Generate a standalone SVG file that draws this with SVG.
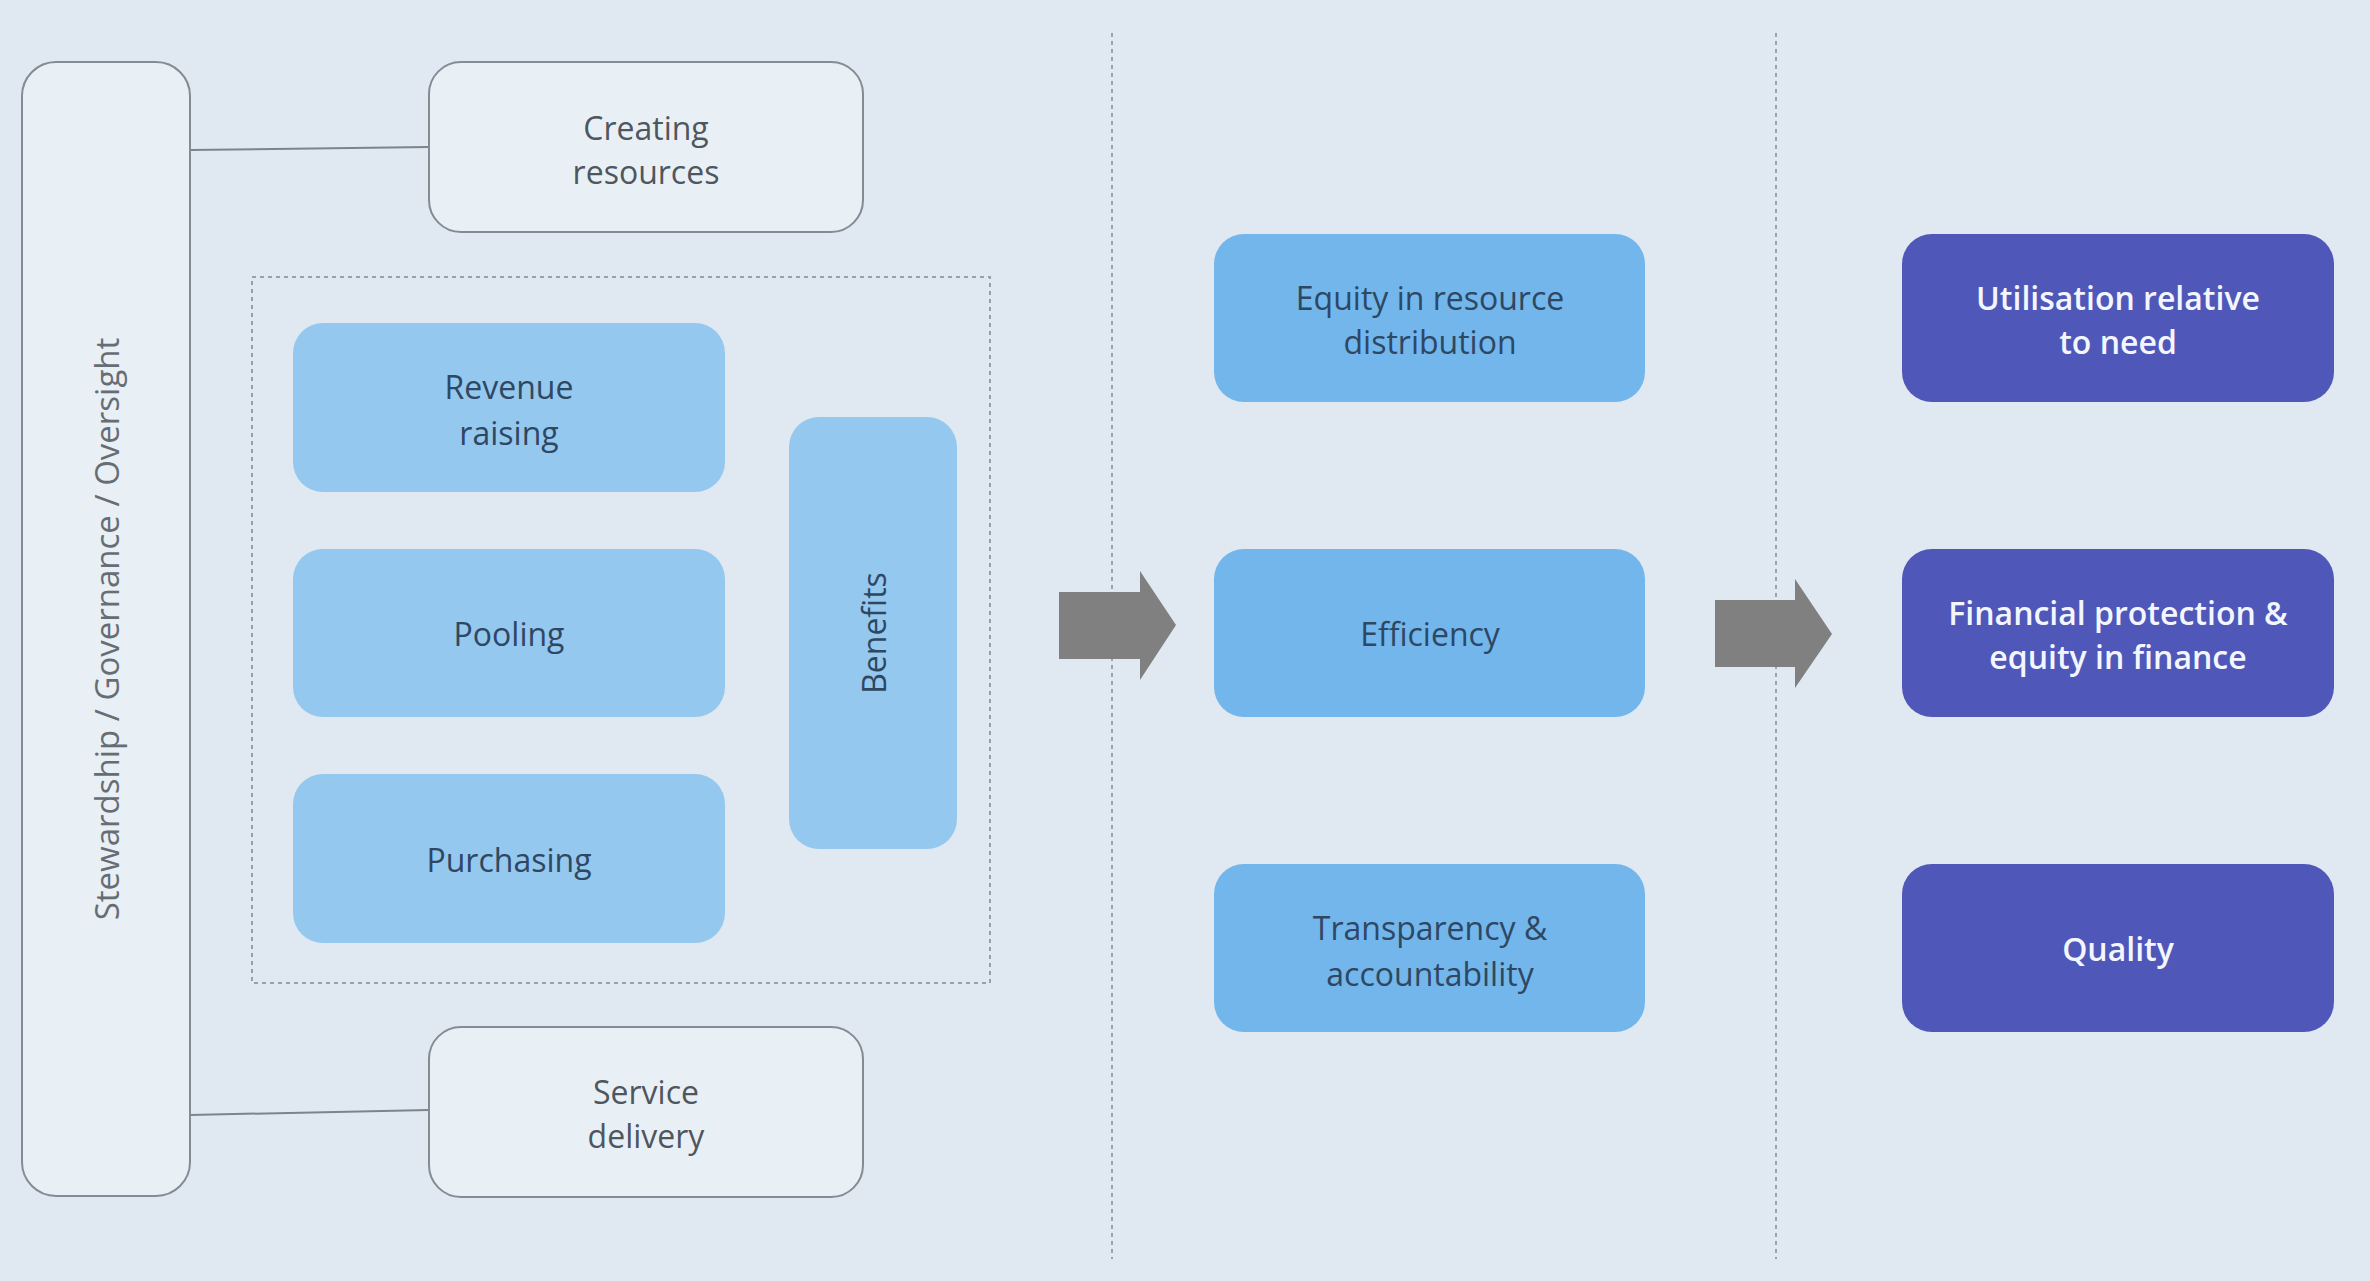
<svg xmlns="http://www.w3.org/2000/svg" width="2370" height="1281" viewBox="0 0 2370 1281">
<style>
.bg{fill:#e0e9f2}
.light{fill:#e9f0f5;stroke:#858b93;stroke-width:2}
.inner{fill:#95c8ef}
.mid{fill:#72b6ec}
.dark{fill:#4f58b9}
.t{font-family:"Open Sans","Noto Sans","Liberation Sans",sans-serif;font-size:32px;text-anchor:middle;dominant-baseline:central}
.tg{fill:#4e565f}
.tb{fill:#2e4762}
.tw{fill:#f4f6ff;font-weight:600}
.conn{stroke:#7c838b;stroke-width:2;fill:none}
.div{stroke:#9aa3ad;stroke-width:2;stroke-dasharray:4 4;fill:none}
.grp{stroke:#99a0a8;stroke-width:2;stroke-dasharray:4 4;fill:none}
.arrow{fill:#808080}
</style>
<rect class="bg" x="0" y="0" width="2370" height="1281"/>
<g id="dividers">
<line class="div" x1="1112" y1="33" x2="1112" y2="1259"/>
<line class="div" x1="1776" y1="33" x2="1776" y2="1259"/>
</g>
<g id="connectors">
<line class="conn" x1="190" y1="150" x2="429" y2="147"/>
<line class="conn" x1="190" y1="1115" x2="429" y2="1110"/>
<polygon class="arrow" points="1059,592 1140,592 1140,571 1176,625 1140,680 1140,659 1059,659"/>
<polygon class="arrow" points="1715,600 1795,600 1795,579 1832,634 1795,688 1795,667 1715,667"/>
</g>
<g id="stewardship">
<rect class="light" x="22" y="62" width="168" height="1134" rx="34"/>
<text class="t tg" x="0" y="0" transform="translate(106,629) rotate(-90)" style="font-size:33px;fill:#676d74">Stewardship / Governance / Oversight</text>
</g>
<g id="creating">
<rect class="light" x="429" y="62" width="434" height="170" rx="32"/>
<text class="t tg" x="646" y="127">Creating</text>
<text class="t tg" x="646" y="171">resources</text>
</g>
<g id="financing-group">
<rect class="grp" x="252" y="277" width="738" height="706"/>
</g>
<g id="revenue">
<rect class="inner" x="293" y="323" width="432" height="169" rx="30"/>
<text class="t tb" x="509" y="386">Revenue</text>
<text class="t tb" x="509" y="432">raising</text>
</g>
<g id="pooling">
<rect class="inner" x="293" y="549" width="432" height="168" rx="30"/>
<text class="t tb" x="509" y="633">Pooling</text>
</g>
<g id="purchasing">
<rect class="inner" x="293" y="774" width="432" height="169" rx="30"/>
<text class="t tb" x="509" y="859">Purchasing</text>
</g>
<g id="benefits">
<rect class="inner" x="789" y="417" width="168" height="432" rx="30"/>
<text class="t tb" x="0" y="0" transform="translate(873,633) rotate(-90)">Benefits</text>
</g>
<g id="service">
<rect class="light" x="429" y="1027" width="434" height="170" rx="32"/>
<text class="t tg" x="646" y="1091">Service</text>
<text class="t tg" x="646" y="1135">delivery</text>
</g>
<g id="equity-dist">
<rect class="mid" x="1214" y="234" width="431" height="168" rx="30"/>
<text class="t tb" x="1430" y="297">Equity in resource</text>
<text class="t tb" x="1430" y="341">distribution</text>
</g>
<g id="efficiency">
<rect class="mid" x="1214" y="549" width="431" height="168" rx="30"/>
<text class="t tb" x="1430" y="633">Efficiency</text>
</g>
<g id="transparency">
<rect class="mid" x="1214" y="864" width="431" height="168" rx="30"/>
<text class="t tb" x="1430" y="927">Transparency &amp;</text>
<text class="t tb" x="1430" y="973">accountability</text>
</g>
<g id="utilisation">
<rect class="dark" x="1902" y="234" width="432" height="168" rx="30"/>
<text class="t tw" x="2118" y="297">Utilisation relative</text>
<text class="t tw" x="2118" y="341">to need</text>
</g>
<g id="financial-protection">
<rect class="dark" x="1902" y="549" width="432" height="168" rx="30"/>
<text class="t tw" x="2118" y="612">Financial protection &amp;</text>
<text class="t tw" x="2118" y="656">equity in finance</text>
</g>
<g id="quality">
<rect class="dark" x="1902" y="864" width="432" height="168" rx="30"/>
<text class="t tw" x="2118" y="948">Quality</text>
</g>
</svg>
